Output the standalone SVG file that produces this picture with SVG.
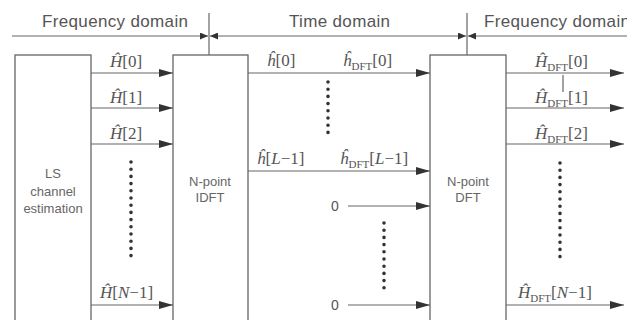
<svg xmlns="http://www.w3.org/2000/svg" width="627" height="320" viewBox="0 0 627 320">
  <defs>
    <marker id="arr" markerUnits="userSpaceOnUse" markerWidth="14" markerHeight="8" refX="14" refY="4" orient="auto">
      <path d="M0,0 L14,4 L0,8 Z" fill="#333"/>
    </marker>
    <marker id="tip" markerUnits="userSpaceOnUse" markerWidth="8" markerHeight="7" refX="8" refY="3.5" orient="auto">
      <path d="M0,0 L8,3.5 L0,7 Z" fill="#333"/>
    </marker>
    <marker id="tipStart" markerUnits="userSpaceOnUse" markerWidth="8" markerHeight="7" refX="0" refY="3.5" orient="auto">
      <path d="M8,0 L0,3.5 L8,7 Z" fill="#333"/>
    </marker>
    <style>
      .box { fill: #fff; stroke: #666; stroke-width: 1.3; }
      .ln { stroke: #666; stroke-width: 1.2; fill: none; }
      .conn { stroke: #666; stroke-width: 1.2; fill: none; marker-end: url(#arr); }
      .dots { stroke: #333; stroke-width: 3.6; stroke-linecap: round; stroke-dasharray: 0 7.2; fill: none; }
      .hdr { font-family: "Liberation Sans", Arial, sans-serif; font-size: 17px; fill: #555; }
      .blk { font-family: "Liberation Sans", Arial, sans-serif; font-size: 13px; fill: #666; text-anchor: middle; }
      .math { font-family: "Liberation Serif", "Times New Roman", serif; font-size: 17px; fill: #555; }
      .it { font-style: italic; }
      .sub { font-size: 11px; }
      .zero { font-family: "Liberation Sans", Arial, sans-serif; font-size: 14px; fill: #555; text-anchor: middle; }
    </style>
  </defs>

  <!-- domain header -->
  <g id="header">
    <text class="hdr" x="42" y="27" textLength="146">Frequency domain</text>
    <text class="hdr" x="289" y="27" textLength="101">Time domain</text>
    <text class="hdr" x="484" y="27" textLength="146">Frequency domain</text>
    <line class="ln" x1="209" y1="13" x2="209" y2="55"/>
    <line class="ln" x1="467" y1="13" x2="467" y2="55"/>
    <line class="ln" x1="12" y1="36" x2="208" y2="36" marker-end="url(#tip)"/>
    <line class="ln" x1="210" y1="36" x2="466" y2="36" marker-start="url(#tipStart)" marker-end="url(#tip)"/>
    <line class="ln" x1="627" y1="36" x2="468" y2="36" marker-end="url(#tip)"/>
  </g>

  <!-- blocks -->
  <g id="ls">
    <rect class="box" x="15" y="55" width="76" height="275"/>
    <text class="blk" x="53" y="178">LS</text>
    <text class="blk" x="53" y="196">channel</text>
    <text class="blk" x="53" y="213">estimation</text>
  </g>
  <g id="idft">
    <rect class="box" x="173" y="55" width="75" height="275"/>
    <text class="blk" x="210" y="186">N-point</text>
    <text class="blk" x="210" y="202">IDFT</text>
  </g>
  <g id="dft">
    <rect class="box" x="430" y="55" width="76" height="275"/>
    <text class="blk" x="468" y="186">N-point</text>
    <text class="blk" x="468" y="202">DFT</text>
  </g>

  <!-- connectors -->
  <g id="connectors">
    <line class="conn" x1="91" y1="73" x2="173" y2="73"/>
    <line class="conn" x1="91" y1="108" x2="173" y2="108"/>
    <line class="conn" x1="91" y1="144" x2="173" y2="144"/>
    <line class="conn" x1="91" y1="305" x2="173" y2="305"/>
    <line class="dots" x1="131" y1="162" x2="131" y2="258"/>

    <line class="conn" x1="248" y1="73" x2="430" y2="73"/>
    <line class="conn" x1="248" y1="171" x2="430" y2="171"/>
    <line class="conn" x1="348" y1="206" x2="430" y2="206"/>
    <line class="conn" x1="348" y1="305" x2="430" y2="305"/>
    <line class="dots" x1="328" y1="82" x2="328" y2="136"/>
    <line class="dots" x1="384" y1="223" x2="384" y2="289"/>

    <line class="conn" x1="506" y1="73" x2="624" y2="73"/>
    <line class="conn" x1="506" y1="108" x2="624" y2="108"/>
    <line class="conn" x1="506" y1="144" x2="624" y2="144"/>
    <line class="conn" x1="506" y1="305" x2="624" y2="305"/>
    <line class="dots" x1="560" y1="163" x2="560" y2="259"/>
    <line class="ln" x1="563" y1="75" x2="563" y2="92" stroke-width="1"/>
  </g>

  <!-- signal labels -->
  <g id="labels">
    <text class="math" x="110" y="67"><tspan class="it">Ĥ</tspan>[0]</text>
    <text class="math" x="110" y="103"><tspan class="it">Ĥ</tspan>[1]</text>
    <text class="math" x="110" y="139"><tspan class="it">Ĥ</tspan>[2]</text>
    <text class="math" x="100" y="298"><tspan class="it">Ĥ</tspan>[<tspan class="it">N</tspan>−1]</text>

    <text class="math" x="267" y="66"><tspan class="it">ĥ</tspan>[0]</text>
    <text class="math" x="343" y="66"><tspan class="it">ĥ</tspan><tspan class="sub" dy="4">DFT</tspan><tspan dy="-4">[0]</tspan></text>
    <text class="math" x="257" y="164"><tspan class="it">ĥ</tspan>[<tspan class="it">L</tspan>−1]</text>
    <text class="math" x="340" y="164"><tspan class="it">ĥ</tspan><tspan class="sub" dy="4">DFT</tspan><tspan dy="-4">[</tspan><tspan class="it">L</tspan>−1]</text>
    <text class="zero" x="335" y="211">0</text>
    <text class="zero" x="335" y="310">0</text>

    <text class="math" x="535" y="67"><tspan class="it">Ĥ</tspan><tspan class="sub" dy="4">DFT</tspan><tspan dy="-4">[0]</tspan></text>
    <text class="math" x="535" y="103"><tspan class="it">Ĥ</tspan><tspan class="sub" dy="4">DFT</tspan><tspan dy="-4">[1]</tspan></text>
    <text class="math" x="535" y="139"><tspan class="it">Ĥ</tspan><tspan class="sub" dy="4">DFT</tspan><tspan dy="-4">[2]</tspan></text>
    <text class="math" x="518" y="298"><tspan class="it">Ĥ</tspan><tspan class="sub" dy="4">DFT</tspan><tspan dy="-4">[</tspan><tspan class="it">N</tspan>−1]</text>
  </g>
</svg>
